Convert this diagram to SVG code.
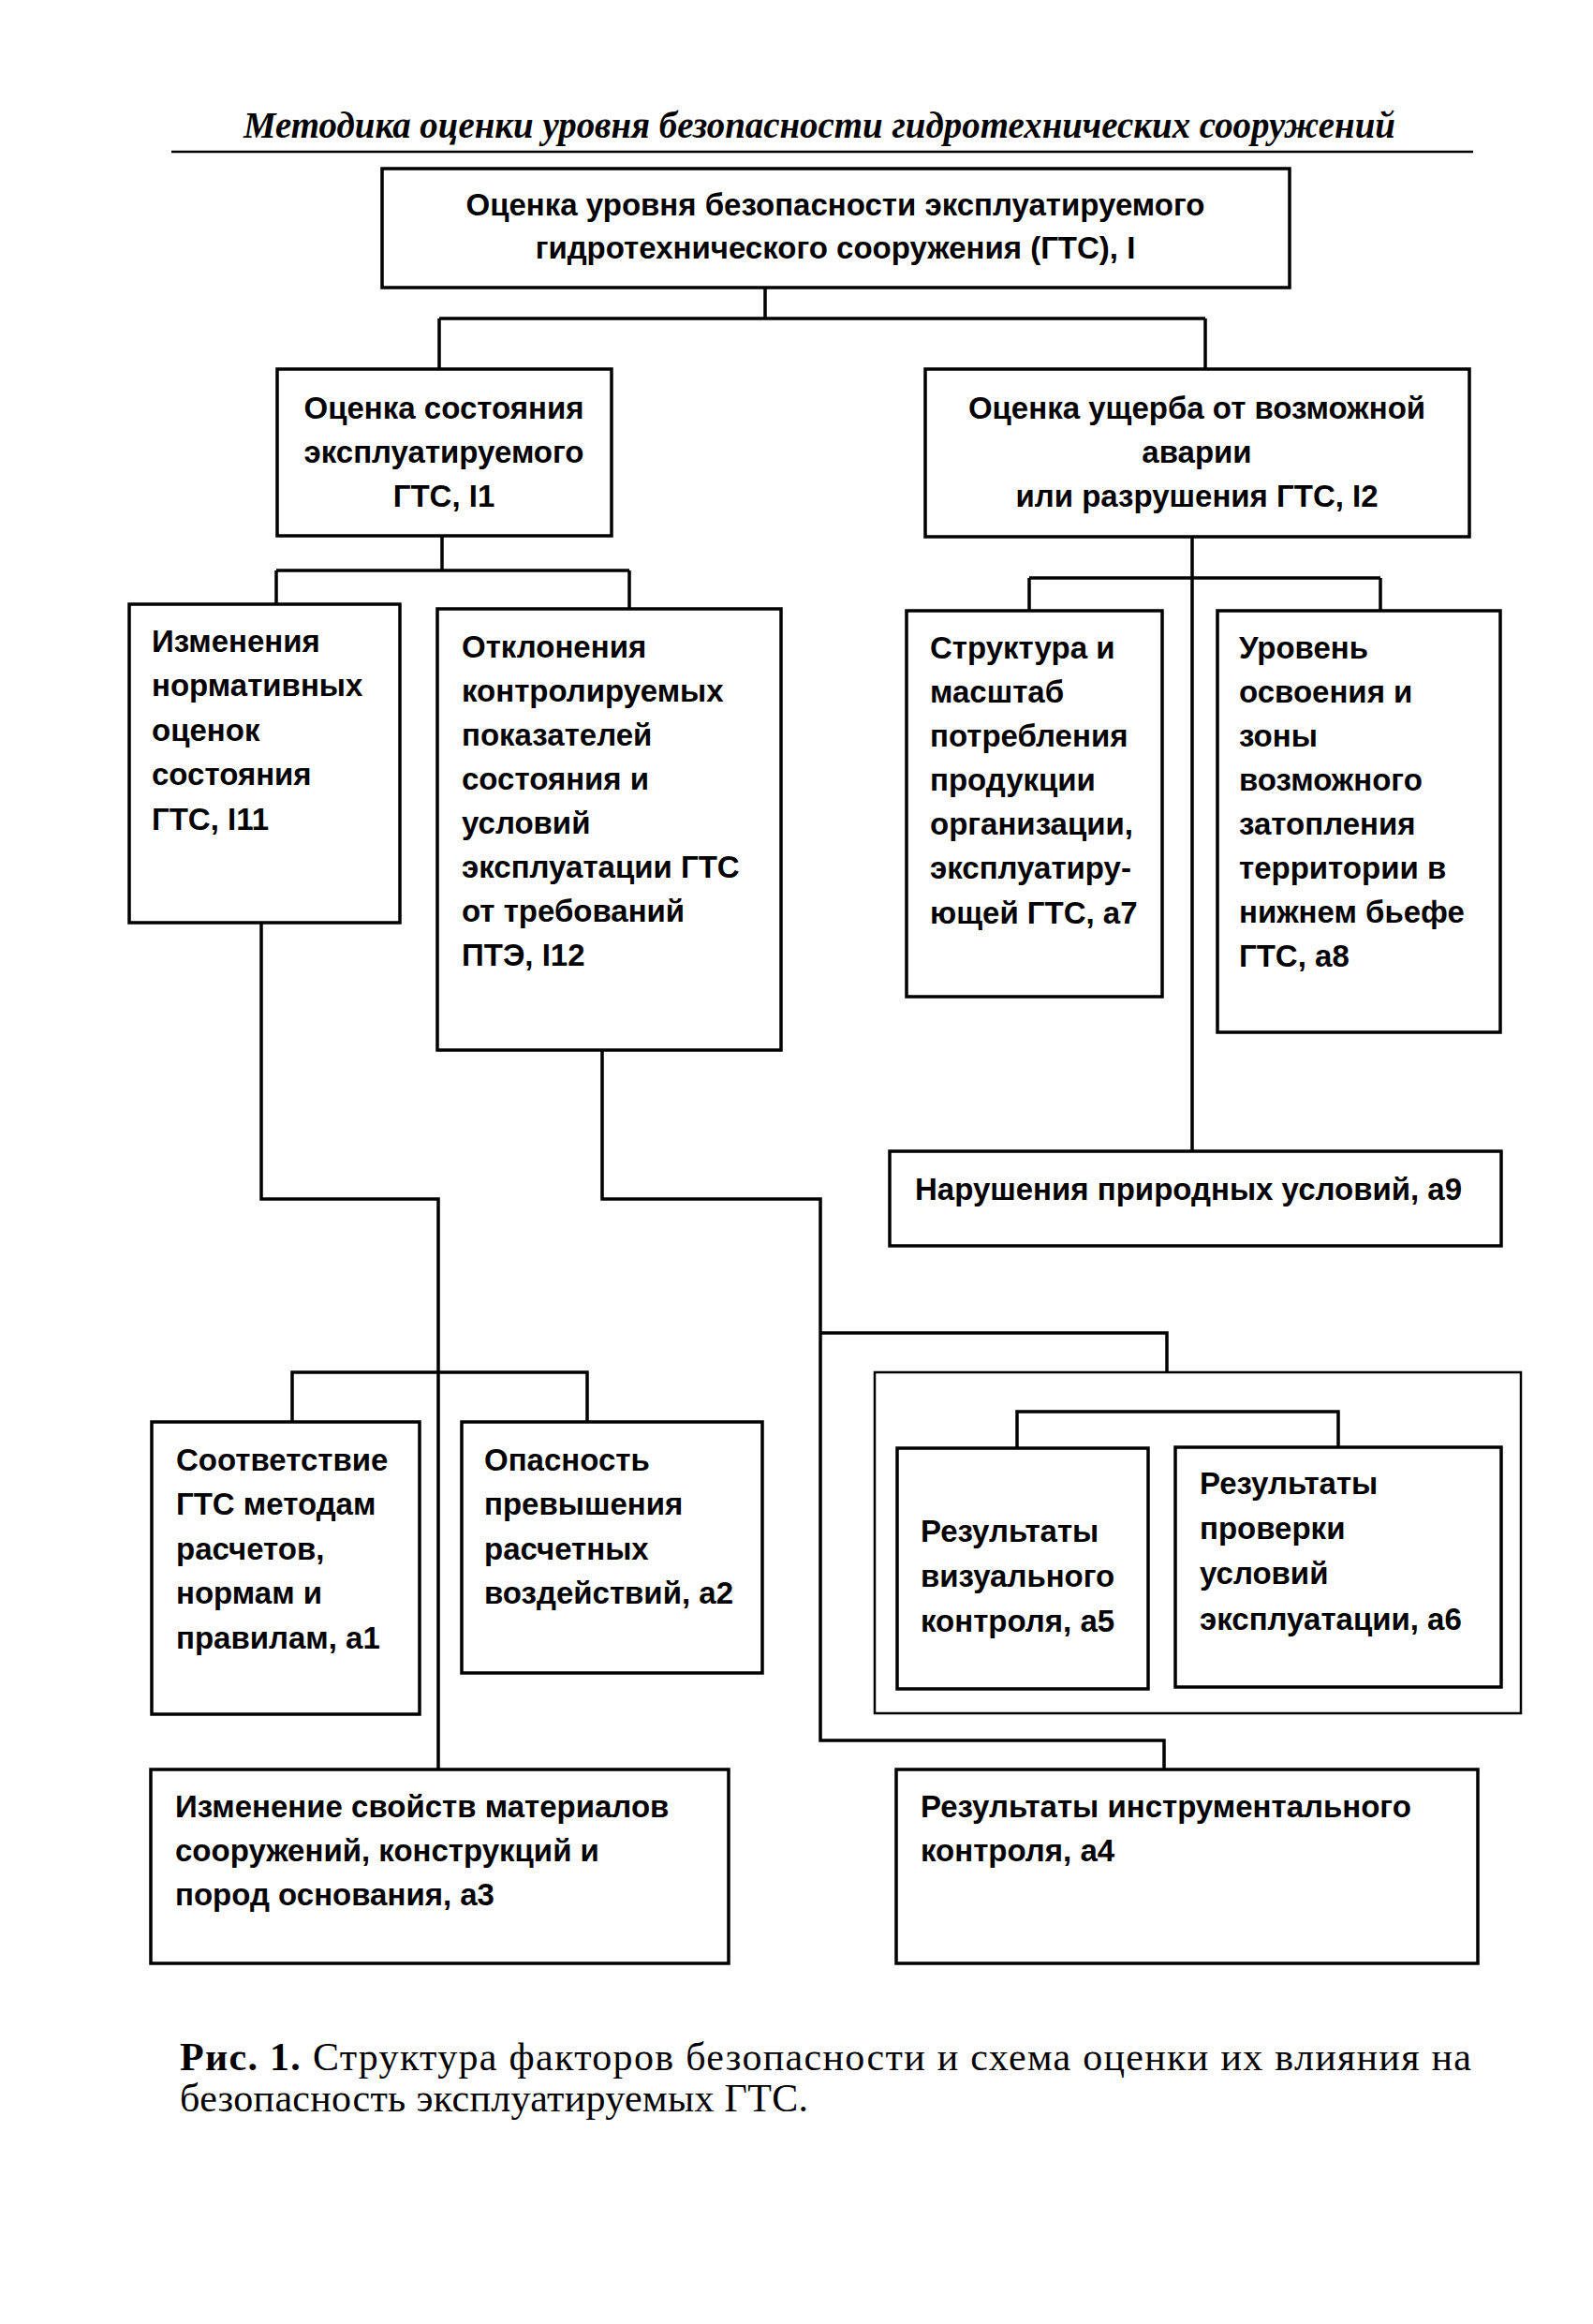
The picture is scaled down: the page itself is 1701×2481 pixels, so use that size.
<svg xmlns="http://www.w3.org/2000/svg" width="1701" height="2481" viewBox="0 0 1701 2481">
<style>
.bg{fill:#fff}
.box{fill:none;stroke:#000;stroke-width:3.5}
.thin{fill:none;stroke:#000;stroke-width:2.5}
.conn{fill:none;stroke:#000;stroke-width:3.5;stroke-linejoin:miter}
.t{font-family:"Liberation Sans",Arial,sans-serif;font-weight:bold;font-size:33px;fill:#000}
.c{text-anchor:middle}
.hdr{font-family:"Liberation Serif","Times New Roman",serif;font-weight:bold;font-style:italic;font-size:40px;fill:#000}
.cap{font-family:"Liberation Serif","Times New Roman",serif;font-size:42px;fill:#000}
</style>
<rect class="bg" x="0" y="0" width="1701" height="2481"/>
<g id="header">
<text class="hdr" x="260" y="147" textLength="1230" lengthAdjust="spacingAndGlyphs">Методика оценки уровня безопасности гидротехнических сооружений</text>
<line x1="183" y1="162" x2="1573" y2="162" stroke="#000" stroke-width="2.5"/>
</g>
<g id="connectors">
<path class="conn" d="M817 307 V340 M469 340 H1287 M469 340 V394 M1287 340 V394"/>
<path class="conn" d="M472 572 V609 M295 609 H672 M295 609 V645 M672 609 V650"/>
<path class="conn" d="M1273 573 V1229 M1099 617 H1474 M1099 617 V652 M1474 617 V652"/>
<path class="conn" d="M279 985 V1280 H468 V1889"/>
<path class="conn" d="M643 1121 V1280 H876 V1858 H1243 V1889"/>
<path class="conn" d="M876 1423 H1246 V1465"/>
<path class="conn" d="M312 1518 V1465 H627 V1518"/>
<path class="conn" d="M1086 1546 V1507 H1429 V1545"/>
</g>
<g id="node-I">
<rect class="box" x="408" y="180" width="969" height="127"/>
<text class="t c" x="892" y="230">Оценка уровня безопасности эксплуатируемого</text>
<text class="t c" x="892" y="276">гидротехнического сооружения (ГТС), I</text>
</g>
<g id="node-I1">
<rect class="box" x="296" y="394" width="357" height="178"/>
<text class="t c" x="474" y="447">Оценка состояния</text>
<text class="t c" x="474" y="494">эксплуатируемого</text>
<text class="t c" x="474" y="541">ГТС, I1</text>
</g>
<g id="node-I2">
<rect class="box" x="988" y="394" width="581" height="179"/>
<text class="t c" x="1278" y="447">Оценка ущерба от возможной</text>
<text class="t c" x="1278" y="494">аварии</text>
<text class="t c" x="1278" y="541">или разрушения ГТС, I2</text>
</g>
<g id="node-I11">
<rect class="box" x="138" y="645" width="289" height="340"/>
<text class="t" x="162" y="696">Изменения</text>
<text class="t" x="162" y="743">нормативных</text>
<text class="t" x="162" y="791">оценок</text>
<text class="t" x="162" y="838">состояния</text>
<text class="t" x="162" y="886">ГТС, I11</text>
</g>
<g id="node-I12">
<rect class="box" x="467" y="650" width="367" height="471"/>
<text class="t" x="493" y="702">Отклонения</text>
<text class="t" x="493" y="749">контролируемых</text>
<text class="t" x="493" y="796">показателей</text>
<text class="t" x="493" y="843">состояния и</text>
<text class="t" x="493" y="890">условий</text>
<text class="t" x="493" y="937">эксплуатации ГТС</text>
<text class="t" x="493" y="984">от требований</text>
<text class="t" x="493" y="1031">ПТЭ, I12</text>
</g>
<g id="node-a7">
<rect class="box" x="968" y="652" width="273" height="412"/>
<text class="t" x="993" y="703">Структура и</text>
<text class="t" x="993" y="750">масштаб</text>
<text class="t" x="993" y="797">потребления</text>
<text class="t" x="993" y="844">продукции</text>
<text class="t" x="993" y="891">организации,</text>
<text class="t" x="993" y="938">эксплуатиру-</text>
<text class="t" x="993" y="986">ющей ГТС, а7</text>
</g>
<g id="node-a8">
<rect class="box" x="1300" y="652" width="302" height="450"/>
<text class="t" x="1323" y="703">Уровень</text>
<text class="t" x="1323" y="750">освоения и</text>
<text class="t" x="1323" y="797">зоны</text>
<text class="t" x="1323" y="844">возможного</text>
<text class="t" x="1323" y="891">затопления</text>
<text class="t" x="1323" y="938">территории в</text>
<text class="t" x="1323" y="985">нижнем бьефе</text>
<text class="t" x="1323" y="1032">ГТС, а8</text>
</g>
<g id="node-a9">
<rect class="box" x="950" y="1229" width="653" height="101"/>
<text class="t" x="977" y="1281">Нарушения природных условий, а9</text>
</g>
<g id="node-a1">
<rect class="box" x="162" y="1518" width="286" height="312"/>
<text class="t" x="188" y="1570">Соответствие</text>
<text class="t" x="188" y="1617">ГТС методам</text>
<text class="t" x="188" y="1665">расчетов,</text>
<text class="t" x="188" y="1712">нормам и</text>
<text class="t" x="188" y="1760">правилам, а1</text>
</g>
<g id="node-a2">
<rect class="box" x="493" y="1518" width="321" height="268"/>
<text class="t" x="517" y="1570">Опасность</text>
<text class="t" x="517" y="1617">превышения</text>
<text class="t" x="517" y="1665">расчетных</text>
<text class="t" x="517" y="1712">воздействий, а2</text>
</g>
<g id="group-a5-a6">
<rect class="thin" x="934" y="1465" width="690" height="364"/>
</g>
<g id="node-a5">
<rect class="box" x="958" y="1546" width="268" height="257"/>
<text class="t" x="983" y="1646">Результаты</text>
<text class="t" x="983" y="1694">визуального</text>
<text class="t" x="983" y="1742">контроля, а5</text>
</g>
<g id="node-a6">
<rect class="box" x="1255" y="1545" width="348" height="256"/>
<text class="t" x="1281" y="1595">Результаты</text>
<text class="t" x="1281" y="1643">проверки</text>
<text class="t" x="1281" y="1691">условий</text>
<text class="t" x="1281" y="1740">эксплуатации, а6</text>
</g>
<g id="node-a3">
<rect class="box" x="161" y="1889" width="617" height="207"/>
<text class="t" x="187" y="1940">Изменение свойств материалов</text>
<text class="t" x="187" y="1987">сооружений, конструкций и</text>
<text class="t" x="187" y="2034">пород основания, а3</text>
</g>
<g id="node-a4">
<rect class="box" x="957" y="1889" width="621" height="207"/>
<text class="t" x="983" y="1940">Результаты инструментального</text>
<text class="t" x="983" y="1987">контроля, а4</text>
</g>
<g id="caption">
<text class="cap" x="192" y="2210" textLength="1379" lengthAdjust="spacing"><tspan font-weight="bold">Рис.  1.</tspan> Структура факторов безопасности и схема оценки их влияния на</text>
<text class="cap" x="192" y="2254" textLength="671" lengthAdjust="spacing">безопасность  эксплуатируемых ГТС.</text>
</g>
</svg>
